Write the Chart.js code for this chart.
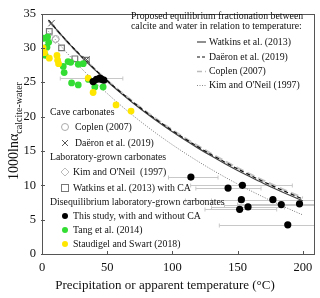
<!DOCTYPE html>
<html><head><meta charset="utf-8">
<script src="https://cdn.jsdelivr.net/npm/chart.js@4.4.0/dist/chart.umd.min.js"></script>
<style>html,body{margin:0;padding:0;background:#fff}#wrap{width:320px;height:298px}</style>
</head><body><div id="wrap"><canvas id="c" width="320" height="298"></canvas></div>
<script>
// ---- data ----
const curveT = [5,10,20,30,40,50,60,70,80,90,100,110,120,130,140,150,160,170,180,190,200];
const watkinsCurve = [34.03,32.90,30.76,28.77,26.90,25.14,23.49,21.94,20.48,19.09,17.78,16.54,15.37,14.25,13.18,12.16,11.20,10.27,9.39,8.54,7.73];
const daeronCurve = [34.04,32.92,30.80,28.83,26.98,25.24,23.61,22.07,20.62,19.25,17.96,16.73,15.56,14.45,13.40,12.39,11.43,10.52,9.64,8.81,8.00];
const coplenCurve = [33.96,32.85,30.75,28.80,26.97,25.24,23.63,22.11,20.67,19.31,18.03,16.81,15.66,14.56,13.52,12.52,11.57,10.66,9.80,8.97,8.18];
const kimCurve = [32.40,31.26,29.08,27.06,25.16,23.37,21.70,20.12,18.64,17.23,15.90,14.64,13.44,12.30,11.22,10.19,9.21,8.27,7.37,6.51,5.69];

const coplenCaveT = [10.5];
const coplenCaveV = [31.3];
const daeronCaveT = [7.3, 34.1];
const daeronCaveV = [33.6, 28.3];
const kimLabT = [10.3];
const kimLabV = [31.2];
const watkinsLabT = [5.6, 15.0, 25.2, 34.0];
const watkinsLabV = [32.4, 30.0, 28.4, 28.2];

const studyT = [39.2,41.8,44.3,45.6,47.4,114.2,142.7,153.7,152.9,177.1,183.5,197.5,151.6,158.0,188.5];
const studyV = [25.1,25.4,25.6,25.4,25.3,11.2,9.6,10.0,7.9,7.9,7.2,7.3,6.5,6.85,4.25];
const studyTLow = [null,null,14,null,null,97,118,114,110,130,140,150,125,130,136];
const studyTHigh = [null,null,62,null,null,135,168,192,215,215,215,215,180,186,240];

const tangT = [1.2,4.3,5.1,3.8,2.5,16.3,17,20,22,27.8,31.6,22.7,27.8,35.6,40.5,46.9];
const tangV = [31.4,31.6,30.8,30.1,28.9,27.3,26.4,28.0,27.9,27.6,27.7,24.9,24.6,25.4,24.3,24.3];

const staudT = [0.8,2.0,5.6,11.5,12.0,12.7,35.4,39.2,56.8,68.3];
const staudV = [30.0,29.3,28.5,28.9,28.2,27.7,25.6,23.5,21.7,20.8];

const xTicks = [0,50,100,150,200];
const yTicks = [0,5,10,15,20,25,30,35];

const pts = (xs, ys) => xs.map((x,i)=>({x:x, y:ys[i]}));
const SERIF = '"Liberation Serif", "Times New Roman", serif';

const errorBars = {
  id:'errorBars',
  beforeDatasetsDraw(chart){
    const {ctx, chartArea:a, scales:{x,y}} = chart;
    ctx.save();
    ctx.beginPath(); ctx.rect(a.left, a.top, a.right-a.left, a.bottom-a.top); ctx.clip();
    ctx.strokeStyle = '#c8c8c8'; ctx.lineWidth = 1;
    studyT.forEach((t,i)=>{
      if (studyTLow[i]==null) return;
      const py = Math.round(y.getPixelForValue(studyV[i]))+0.5;
      const x0 = x.getPixelForValue(studyTLow[i]), x1 = x.getPixelForValue(studyTHigh[i]);
      ctx.beginPath(); ctx.moveTo(x0,py); ctx.lineTo(x1,py); ctx.stroke();
      ctx.beginPath(); ctx.moveTo(x0,py-2); ctx.lineTo(x0,py+2); ctx.moveTo(x1,py-2); ctx.lineTo(x1,py+2); ctx.stroke();
    });
    ctx.restore();
  }
};

const decor = {
  id:'decor',
  afterDraw(chart){
    const {ctx, chartArea:a, scales:{x,y}} = chart;
    ctx.save();
    // frame
    ctx.strokeStyle = '#555'; ctx.lineWidth = 1;
    ctx.strokeRect(Math.round(a.left)+0.5, Math.round(a.top)+0.5, Math.round(a.right-a.left)-1, Math.round(a.bottom-a.top)-1);
    // inward ticks
    ctx.beginPath();
    yTicks.forEach(v=>{ const py=Math.round(y.getPixelForValue(v))+0.5; ctx.moveTo(a.left-1,py); ctx.lineTo(a.left+3,py); });
    xTicks.forEach(v=>{ const px=Math.round(x.getPixelForValue(v))+0.5; ctx.moveTo(px,a.bottom+1); ctx.lineTo(px,a.bottom-3); });
    ctx.stroke();

    // axis titles
    ctx.fillStyle = '#111';
    ctx.textBaseline = 'middle'; ctx.textAlign = 'center';
    ctx.font = '13px ' + SERIF;
    ctx.fillText('Precipitation or apparent temperature (°C)', 165, 286);
    ctx.save();
    ctx.translate(14, 131); ctx.rotate(-Math.PI/2);
    ctx.font = '14px ' + SERIF; const m1 = ctx.measureText('1000lnα').width;
    ctx.font = '10px ' + SERIF; const m2 = ctx.measureText('calcite-water').width;
    const sx = -(m1+m2)/2;
    ctx.textAlign = 'left'; ctx.textBaseline = 'alphabetic';
    ctx.font = '14px ' + SERIF; ctx.fillText('1000lnα', sx, 4);
    ctx.font = '10px ' + SERIF; ctx.fillText('calcite-water', sx+m1, 8);
    ctx.restore();

    // top-right legend
    ctx.textAlign = 'left'; ctx.textBaseline = 'middle';
    ctx.font = '9.8px ' + SERIF; ctx.fillStyle = '#111';
    ctx.fillText('Proposed equilibrium fractionation between', 131, 16);
    ctx.fillText('calcite and water in relation to temperature:', 131, 26);
    const lineItems = [
      ['Watkins et al. (2013)', '#444', [], 1.2, 42],
      ['Daëron et al. (2019)', '#111', [3,2], 1.2, 57],
      ['Coplen (2007)', '#bbb', [5,3], 1.5, 71.5],
      ["Kim and O'Neil (1997)", '#888', [1,1.5], 1, 85.5]
    ];
    lineItems.forEach(([t,c,d,w,yy])=>{
      ctx.save(); ctx.strokeStyle=c; ctx.setLineDash(d); ctx.lineWidth=w;
      ctx.beginPath(); ctx.moveTo(197,yy); ctx.lineTo(206,yy); ctx.stroke(); ctx.restore();
      ctx.fillText(t, 209, yy);
    });

    // left legend
    ctx.font = '9.8px ' + SERIF;
    const heads = [['Cave carbonates',112],['Laboratory-grown carbonates',157],['Disequilibrium laboratory-grown carbonates',202]];
    heads.forEach(([t,yy])=>ctx.fillText(t,50,yy));
    const mx = 65, tx = 73;
    ctx.lineWidth = 1;
    ctx.strokeStyle = '#aaa'; ctx.beginPath(); ctx.arc(mx,127,3.5,0,Math.PI*2); ctx.stroke();
    ctx.fillText('Coplen (2007)', tx+2, 127);
    ctx.strokeStyle = '#555'; ctx.beginPath(); ctx.moveTo(mx-3,140); ctx.lineTo(mx+3,146); ctx.moveTo(mx+3,140); ctx.lineTo(mx-3,146); ctx.stroke();
    ctx.fillText('Daëron et al. (2019)', tx+2, 143);
    ctx.strokeStyle = '#bbb'; ctx.beginPath(); ctx.moveTo(mx,168); ctx.lineTo(mx+4,172); ctx.lineTo(mx,176); ctx.lineTo(mx-4,172); ctx.closePath(); ctx.stroke();
    ctx.fillText("Kim and O'Neil  (1997)", tx, 172);
    ctx.strokeStyle = '#777'; ctx.strokeRect(mx-3.5,184.5,7,7);
    ctx.fillText('Watkins et al. (2013) with CA', tx, 188);
    const dots = [['#000','This study, with and without CA',216],['#33dd33','Tang et al. (2014)',230],['#ffe600','Staudigel and Swart (2018)',244]];
    dots.forEach(([c,t,yy])=>{
      ctx.fillStyle=c; ctx.beginPath(); ctx.arc(mx,yy,3,0,Math.PI*2); ctx.fill();
      ctx.fillStyle='#111'; ctx.fillText(t, tx, yy);
    });
    ctx.restore();
  }
};

const lineDs = (label, vals, color, dash, width) => ({
  label, data: pts(curveT, vals), showLine:true, borderColor:color, borderDash:dash,
  borderWidth:width, pointRadius:0, fill:false, cubicInterpolationMode:'monotone'
});

new Chart(document.getElementById('c'), {
  type:'scatter',
  data:{ datasets:[
    {label:'This study', data:pts(studyT,studyV), backgroundColor:'#000', borderColor:'#000', pointRadius:3.6, borderWidth:0},
    {label:'Staudigel and Swart (2018)', data:pts(staudT,staudV), backgroundColor:'#ffe600', borderColor:'#ffe600', pointRadius:3.4, borderWidth:0},
    {label:'Tang et al. (2014)', data:pts(tangT,tangV), backgroundColor:'#33dd33', borderColor:'#33dd33', pointRadius:3.4, borderWidth:0},
    {label:'Coplen (2007) cave', data:pts(coplenCaveT,coplenCaveV), pointStyle:'circle', backgroundColor:'rgba(0,0,0,0)', borderColor:'#aaa', pointRadius:3.5, borderWidth:1},
    {label:'Kim and O\'Neil (1997) lab', data:pts(kimLabT,kimLabV), pointStyle:'rectRot', backgroundColor:'rgba(0,0,0,0)', borderColor:'#bbb', pointRadius:4, borderWidth:1},
    {label:'Daëron et al. (2019) cave', data:pts(daeronCaveT,daeronCaveV), pointStyle:'crossRot', borderColor:'#555', pointRadius:4.5, borderWidth:1},
    {label:'Watkins et al. (2013) with CA', data:pts(watkinsLabT,watkinsLabV), pointStyle:'rect', backgroundColor:'rgba(0,0,0,0)', borderColor:'#777', pointRadius:4, borderWidth:1.2},
    lineDs('Daëron et al. (2019)', daeronCurve, '#111', [4,3], 1.2),
    lineDs('Watkins et al. (2013)', watkinsCurve, '#444', [], 1.2),
    lineDs('Coplen (2007)', coplenCurve, '#c4c4c4', [8,4], 2.4),
    lineDs("Kim and O'Neil (1997)", kimCurve, '#777', [1,1.5], 1)
  ]},
  options:{
    responsive:false, animation:false,
    layout:{padding:{top:7, right:5, left:0, bottom:0}},
    plugins:{legend:{display:false}, tooltip:{enabled:false}},
    scales:{
      x:{type:'linear', min:0, max:209,
        afterBuildTicks:s=>{s.ticks = xTicks.map(v=>({value:v}));},
        afterFit:s=>{s.height = 44;},
        grid:{display:false, drawTicks:false}, border:{display:false},
        ticks:{padding:6, color:'#111', font:{family:SERIF, size:12.5}, maxRotation:0}},
      y:{type:'linear', min:0, max:35,
        afterBuildTicks:s=>{s.ticks = yTicks.map(v=>({value:v}));},
        afterFit:s=>{s.width = 42;},
        grid:{display:false, drawTicks:false}, border:{display:false},
        ticks:{padding:6, color:'#111', font:{family:SERIF, size:12.5}}}
    }
  },
  plugins:[errorBars, decor]
});
</script></body></html>
